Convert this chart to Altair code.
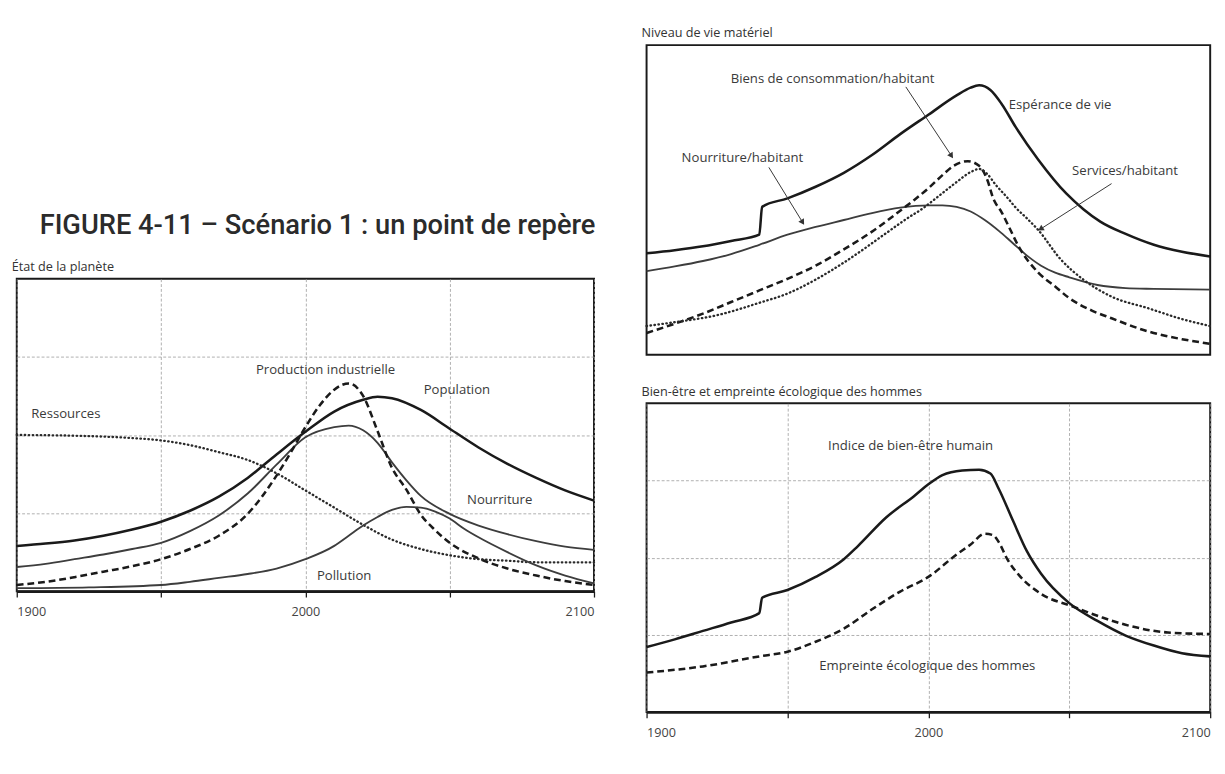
import math
import pandas as pd
import altair as alt

# ---------------- data ----------------
FIG_TITLE = "FIGURE 4-11 – Scénario 1 : un point de repère"
TITLE_LEFT = "État de la planète"
TITLE_TR = "Niveau de vie matériel"
TITLE_BR = "Bien-être et empreinte écologique des hommes"

TICK_YEARS = [1900, 1950, 2000, 2050, 2100]

# Left panel: État de la planète (values in grid divisions, 0..4)
pop_years = [1900, 1910, 1920, 1930, 1940, 1950, 1960, 1970, 1980, 1990, 2000, 2010, 2020, 2025, 2030, 2040, 2050, 2060, 2070, 2080, 2090, 2100]
pop_vals = [0.58, 0.61, 0.65, 0.71, 0.79, 0.89, 1.03, 1.21, 1.45, 1.75, 2.04, 2.30, 2.45, 2.49, 2.47, 2.32, 2.08, 1.84, 1.63, 1.45, 1.29, 1.16]

nour_years = [1900, 1910, 1920, 1930, 1940, 1950, 1960, 1970, 1980, 1990, 2000, 2010, 2015, 2020, 2025, 2030, 2035, 2040, 2050, 2060, 2070, 2080, 2090, 2100]
nour_vals = [0.31, 0.35, 0.41, 0.47, 0.54, 0.62, 0.77, 0.97, 1.25, 1.62, 1.97, 2.10, 2.12, 2.06, 1.90, 1.65, 1.42, 1.22, 0.99, 0.84, 0.73, 0.64, 0.57, 0.53]

prod_years = [1900, 1910, 1920, 1930, 1940, 1950, 1960, 1970, 1980, 1990, 1995, 2000, 2005, 2010, 2015, 2020, 2025, 2030, 2035, 2040, 2045, 2050, 2060, 2070, 2080, 2090, 2100]
prod_vals = [0.08, 0.12, 0.18, 0.25, 0.32, 0.41, 0.54, 0.71, 0.99, 1.48, 1.78, 2.10, 2.38, 2.58, 2.66, 2.50, 2.05, 1.58, 1.30, 0.98, 0.78, 0.62, 0.42, 0.29, 0.20, 0.13, 0.08]

res_years = [1900, 1920, 1940, 1950, 1960, 1970, 1980, 1990, 2000, 2010, 2020, 2030, 2040, 2050, 2060, 2070, 2080, 2100]
res_vals = [2.00, 1.99, 1.96, 1.93, 1.87, 1.78, 1.68, 1.51, 1.29, 1.07, 0.85, 0.66, 0.54, 0.46, 0.41, 0.39, 0.37, 0.37]

poll_years = [1900, 1925, 1950, 1960, 1970, 1980, 1990, 2000, 2010, 2015, 2020, 2025, 2030, 2035, 2040, 2045, 2050, 2055, 2060, 2070, 2080, 2090, 2100]
poll_vals = [0.04, 0.05, 0.08, 0.12, 0.17, 0.22, 0.29, 0.41, 0.58, 0.71, 0.84, 0.95, 1.04, 1.08, 1.07, 1.02, 0.93, 0.80, 0.69, 0.50, 0.33, 0.20, 0.10]

left_label_text = ["Ressources", "Production industrielle", "Population", "Nourriture", "Pollution"]
left_label_year = [1905, 2007, 2041, 2056, 2004]
left_label_v = [2.27, 2.83, 2.58, 1.17, 0.19]
left_label_align = ["left", "center", "left", "left", "left"]

# Top right panel: Niveau de vie matériel
esp_years = [1900, 1910, 1920, 1930, 1940, 1941, 1950, 1960, 1970, 1980, 1990, 2000, 2010, 2015, 2018, 2022, 2026, 2031, 2039, 2049, 2055, 2061, 2070, 2080, 2090, 2100]
esp_vals = [1.31, 1.35, 1.40, 1.47, 1.55, 1.91, 2.02, 2.17, 2.35, 2.58, 2.85, 3.10, 3.35, 3.45, 3.48, 3.42, 3.24, 2.94, 2.52, 2.08, 1.88, 1.72, 1.56, 1.42, 1.33, 1.27]

nh_years = [1900, 1910, 1920, 1930, 1940, 1950, 1960, 1970, 1980, 1990, 2000, 2005, 2010, 2015, 2020, 2025, 2030, 2035, 2040, 2045, 2050, 2060, 2070, 2080, 2100]
nh_vals = [1.08, 1.14, 1.21, 1.30, 1.42, 1.55, 1.65, 1.74, 1.83, 1.90, 1.93, 1.93, 1.91, 1.85, 1.74, 1.60, 1.44, 1.28, 1.15, 1.06, 1.00, 0.90, 0.86, 0.85, 0.84]

bh_years = [1900, 1910, 1920, 1930, 1940, 1950, 1960, 1970, 1980, 1990, 1995, 2000, 2005, 2009, 2014, 2018, 2021, 2023, 2026, 2029, 2032, 2039, 2045, 2050, 2058, 2065, 2078, 2090, 2100]
bh_vals = [0.28, 0.40, 0.53, 0.68, 0.83, 0.98, 1.15, 1.36, 1.59, 1.86, 2.00, 2.15, 2.32, 2.44, 2.50, 2.44, 2.25, 2.02, 1.84, 1.62, 1.40, 1.06, 0.88, 0.73, 0.57, 0.47, 0.30, 0.20, 0.14]

sh_years = [1900, 1910, 1925, 1940, 1950, 1960, 1970, 1985, 1992, 1998, 2003, 2010, 2015, 2018, 2021, 2024, 2028, 2031, 2035, 2039, 2047, 2055, 2065, 2078, 2090, 2100]
sh_vals = [0.37, 0.42, 0.51, 0.67, 0.79, 0.97, 1.19, 1.57, 1.75, 1.89, 2.03, 2.23, 2.36, 2.40, 2.33, 2.19, 2.03, 1.90, 1.76, 1.61, 1.23, 0.97, 0.75, 0.60, 0.46, 0.37]

tr_label_text = ["Biens de consommation/habitant", "Espérance de vie", "Nourriture/habitant", "Services/habitant"]
tr_label_year = [1966, 2028.5, 1934, 2051]
tr_label_v = [3.56, 3.23, 2.54, 2.375]
tr_label_align = ["center", "left", "center", "left"]

arrow_year = [1992, 1943.4, 2065]
arrow_v = [3.46, 2.42, 2.21]
arrow_year2 = [2008, 1955.2, 2040.1]
arrow_v2 = [2.58, 1.72, 1.63]

# Bottom right panel: Bien-être et empreinte écologique
ibh_years = [1900, 1910, 1920, 1930, 1940, 1941, 1950, 1960, 1970, 1975, 1985, 1995, 2000, 2005, 2012, 2018, 2022, 2025, 2030, 2035, 2040, 2050, 2060, 2070, 2080, 2090, 2100]
ibh_vals = [0.84, 0.94, 1.05, 1.16, 1.28, 1.48, 1.58, 1.75, 1.98, 2.15, 2.52, 2.80, 2.95, 3.07, 3.13, 3.14, 3.09, 2.89, 2.48, 2.08, 1.79, 1.41, 1.18, 0.99, 0.86, 0.76, 0.72]

emp_years = [1900, 1920, 1940, 1950, 1960, 1970, 1980, 1990, 2000, 2010, 2015, 2020, 2023, 2025, 2028, 2032, 2040, 2051, 2062, 2072, 2085, 2100]
emp_vals = [0.51, 0.59, 0.72, 0.78, 0.91, 1.08, 1.33, 1.56, 1.75, 2.04, 2.17, 2.31, 2.29, 2.20, 1.98, 1.78, 1.53, 1.37, 1.22, 1.11, 1.03, 1.01]

br_label_text = ["Indice de bien-être humain", "Empreinte écologique des hommes"]
br_label_year = [1993.7, 1999.6]
br_label_v = [3.45, 0.60]
br_label_align = ["center", "center"]

# ---------------- styles / layout ----------------
LABEL_FONT = "Open Sans"
TEXT_COLOR = "#3a3a3a"
INK = "#1a1a1a"
GRID = "#9a9a9a"

LEFT_W, LEFT_H = 593, 321
RIGHT_W, TR_H, BR_H = 579, 318, 317

STYLES = {
    "solid": dict(strokeWidth=2.6, color=INK),
    "thin": dict(strokeWidth=1.9, color="#3d3d3d"),
    "dash": dict(strokeWidth=2.6, color=INK, strokeDash=[7, 4]),
    "dot": dict(strokeWidth=2.4, color="#2a2a2a", strokeDash=[0.5, 3.6], strokeCap="round"),
}


def long_df(series):
    rows = []
    for name, years, vals, style in series:
        for y, v in zip(years, vals):
            rows.append({"serie": name, "year": y, "v": v, "style": style})
    return pd.DataFrame(rows)


def xenc():
    return alt.X(
        "year:Q",
        scale=alt.Scale(domain=[1900, 2100], nice=False, zero=False),
        axis=alt.Axis(
            values=TICK_YEARS, format="d",
            labelExpr="datum.value % 100 == 0 ? datum.label : ''",
            title=None, grid=True, gridColor=GRID, gridDash=[3, 2], gridWidth=0.8,
            labelFlush=True, labelOverlap=False, labelFont=LABEL_FONT, labelFontSize=13,
            labelColor="#444", labelPadding=9, tickSize=6, tickColor=INK, tickWidth=1.3,
            domainColor=INK, domainWidth=2.6,
        ),
    )


def yenc():
    return alt.Y(
        "v:Q",
        scale=alt.Scale(domain=[0, 4], nice=False, zero=True),
        axis=alt.Axis(values=[1, 2, 3], grid=True, gridColor=GRID, gridDash=[3, 2], gridWidth=0.8,
                      labels=False, ticks=False, domain=False, title=None, minExtent=0, maxExtent=0),
    )


def panel(series, labels, title, w, h, arrows=None):
    df = long_df(series)
    layers = []
    for name, _, _, style in series:
        layers.append(
            alt.Chart(df).transform_filter(alt.datum.serie == name)
            .mark_line(interpolate="monotone", **STYLES[style])
            .encode(x=xenc(), y=yenc(), detail="serie:N")
        )
    if arrows is not None:
        adf = pd.DataFrame(arrows)
        px_x = w / 200.0
        px_y = h / 4.0
        adf["angle"] = [
            (math.degrees(math.atan2((x2 - x1) * px_x, (v2 - v1) * px_y)) + 360) % 360
            for x1, v1, x2, v2 in zip(adf.year, adf.v, adf.year2, adf.v2)
        ]
        layers.append(
            alt.Chart(adf).mark_rule(color="#333", strokeWidth=1)
            .encode(x=xenc(), y=yenc(), x2="year2:Q", y2="v2:Q")
        )
        layers.append(
            alt.Chart(adf).mark_point(shape="triangle", filled=True, color="#333", size=45, opacity=1)
            .encode(x=alt.X("year2:Q", scale=alt.Scale(domain=[1900, 2100], nice=False, zero=False), axis=None),
                    y=alt.Y("v2:Q", scale=alt.Scale(domain=[0, 4], nice=False), axis=None),
                    angle=alt.Angle("angle:Q", scale=None))
        )
    ldf = pd.DataFrame(labels)
    for al in ["left", "center"]:
        layers.append(
            alt.Chart(ldf).transform_filter(alt.datum.align == al)
            .mark_text(align=al, baseline="middle", font=LABEL_FONT, fontSize=13.5, color=TEXT_COLOR)
            .encode(x=xenc(), y=yenc(), text="text:N")
        )
    return alt.layer(*layers).properties(
        width=w, height=h,
        view=alt.ViewBackground(stroke=INK, strokeWidth=2),
        title=alt.Title(title, anchor="start", font=LABEL_FONT, fontSize=13, fontWeight="normal",
                        color="#333", offset=5),
    )


left_chart = panel(
    [("Population", pop_years, pop_vals, "solid"),
     ("Nourriture", nour_years, nour_vals, "thin"),
     ("Production industrielle", prod_years, prod_vals, "dash"),
     ("Ressources", res_years, res_vals, "dot"),
     ("Pollution", poll_years, poll_vals, "thin")],
    {"text": left_label_text, "year": left_label_year, "v": left_label_v, "align": left_label_align},
    TITLE_LEFT, LEFT_W, LEFT_H,
)

top_right = panel(
    [("Espérance de vie", esp_years, esp_vals, "solid"),
     ("Nourriture/habitant", nh_years, nh_vals, "thin"),
     ("Biens de consommation/habitant", bh_years, bh_vals, "dash"),
     ("Services/habitant", sh_years, sh_vals, "dot")],
    {"text": tr_label_text, "year": tr_label_year, "v": tr_label_v, "align": tr_label_align},
    TITLE_TR, RIGHT_W, TR_H,
    arrows={"year": arrow_year, "v": arrow_v, "year2": arrow_year2, "v2": arrow_v2},
)

bottom_right = panel(
    [("Indice de bien-être humain", ibh_years, ibh_vals, "solid"),
     ("Empreinte écologique des hommes", emp_years, emp_vals, "dash")],
    {"text": br_label_text, "year": br_label_year, "v": br_label_v, "align": br_label_align},
    TITLE_BR, RIGHT_W, BR_H,
)

spacer = alt.Chart(pd.DataFrame({"t": [FIG_TITLE]})).mark_text(
    font="Roboto", fontSize=28, fontWeight=500, color="#2b2b2b", align="center", baseline="middle"
).encode(text="t:N", x=alt.value(309), y=alt.value(186)).properties(
    width=LEFT_W, height=221, view=alt.ViewBackground(strokeOpacity=0, stroke="white")
)

left_col = alt.vconcat(spacer, left_chart, spacing=0)
right_col = alt.vconcat(top_right, bottom_right, spacing=30)

chart = alt.hconcat(left_col, right_col, spacing=40).properties(
    padding={"left": 2, "top": 9, "right": 0, "bottom": 0},
    background="white",
)

chart.save("out.html", embed_options={"renderer": "svg", "actions": False})
